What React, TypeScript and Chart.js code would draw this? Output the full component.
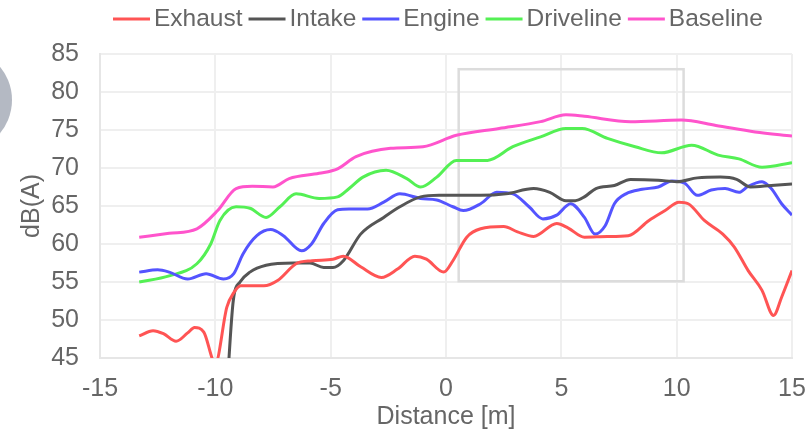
import React, { useEffect, useRef } from "react";
import { Chart, registerables } from "chart.js";

Chart.register(...registerables);

const seriesNames = ["Exhaust", "Intake", "Engine", "Driveline", "Baseline"];
const seriesColors = ["#ff5454", "#555555", "#5454ff", "#54f054", "#ff54cc"];

const exhaustX = [-13.3, -12.7, -12.25, -11.7, -11.2, -10.9, -10.5, -10.0, -9.5, -9.2, -8.9, -8.4, -7.9, -7.3, -6.5, -5.8, -4.9, -4.45, -3.7, -2.8, -2.1, -1.35, -0.85, -0.1, 0.3, 0.9, 1.5, 2.5, 3.1, 3.8, 4.8, 5.3, 6.0, 7.0, 7.9, 8.8, 9.5, 10.1, 10.5, 11.2, 12.0, 12.5, 13.1, 13.7, 14.2, 14.55, 15.0];
const exhaustY = [47.9, 48.6, 48.2, 47.2, 48.3, 49.0, 48.4, 44.3, 51.7, 53.6, 54.5, 54.5, 54.5, 55.2, 57.4, 57.8, 58.0, 58.4, 57.0, 55.6, 56.7, 58.4, 58.0, 56.3, 57.8, 60.9, 62.0, 62.3, 61.6, 61.0, 62.7, 62.1, 60.9, 61.0, 61.1, 63.1, 64.4, 65.5, 65.3, 63.1, 61.3, 59.6, 56.5, 53.9, 50.6, 53.0, 56.5];

const intakeX = [-9.55, -9.22, -8.93, -8.5, -7.8, -6.6, -5.9, -5.3, -4.9, -4.45, -3.7, -2.7, -2.0, -1.1, -0.3, 1.5, 2.6, 3.8, 4.5, 5.2, 5.6, 6.0, 6.5, 7.3, 8.0, 9.2, 10.0, 10.9, 11.9, 12.6, 13.2, 14.1, 15.0];
const intakeY = [38, 52.6, 55.0, 56.3, 57.2, 57.5, 57.5, 56.9, 56.9, 57.8, 61.3, 63.5, 64.9, 66.2, 66.4, 66.4, 66.6, 67.3, 66.8, 65.7, 65.7, 66.2, 67.3, 67.7, 68.5, 68.4, 68.2, 68.7, 68.8, 68.5, 67.5, 67.7, 67.9];

const engineX = [-13.3, -12.5, -12.0, -11.2, -10.4, -9.65, -9.2, -8.8, -8.2, -7.6, -7.05, -6.26, -5.83, -5.3, -4.7, -4.2, -3.4, -2.7, -2.0, -1.1, -0.4, 0.3, 0.75, 1.5, 2.2, 2.9, 3.6, 4.2, 4.8, 5.4, 6.0, 6.46, 6.9, 7.3, 7.8, 8.5, 9.2, 9.8, 10.35, 10.9, 11.5, 12.1, 12.7, 13.1, 13.7, 14.1, 14.55, 15.0];
const engineY = [56.3, 56.6, 56.3, 55.4, 56.1, 55.4, 56.1, 58.7, 61.1, 61.9, 61.1, 59.1, 60.0, 62.7, 64.5, 64.6, 64.6, 65.5, 66.6, 66.0, 65.8, 64.9, 64.4, 65.3, 66.8, 66.6, 64.9, 63.3, 63.8, 65.3, 63.5, 61.3, 62.4, 65.3, 66.6, 67.2, 67.5, 68.3, 68.0, 66.4, 67.1, 67.3, 66.8, 67.6, 68.2, 67.3, 65.3, 63.8];

const drivelineX = [-13.3, -12.0, -10.8, -10.2, -9.8, -9.1, -8.5, -7.8, -7.2, -6.5, -5.5, -4.7, -4.2, -3.6, -2.6, -1.7, -1.1, -0.4, 0.45, 1.8, 2.9, 4.1, 5.2, 5.9, 7.0, 8.2, 9.35, 10.65, 11.8, 12.7, 13.7, 15.0];
const drivelineY = [55.0, 55.8, 57.4, 60.0, 63.1, 64.9, 64.7, 63.5, 64.9, 66.6, 66.0, 66.2, 67.3, 68.8, 69.7, 68.6, 67.5, 68.8, 71.0, 71.0, 72.8, 74.1, 75.2, 75.2, 73.9, 72.8, 72.0, 73.0, 71.7, 71.2, 70.1, 70.7];

const baselineX = [-13.3, -12.0, -10.8, -9.9, -9.1, -8.4, -7.5, -6.8, -5.5, -4.7, -3.9, -2.4, -1.0, 0.45, 2.3, 4.1, 5.2, 6.0, 8.0, 10.2, 11.7, 13.4, 15.0];
const baselineY = [60.9, 61.4, 62.0, 64.4, 67.3, 67.6, 67.5, 68.6, 69.3, 69.9, 71.5, 72.6, 72.8, 74.3, 75.2, 76.1, 77.0, 76.8, 76.1, 76.3, 75.6, 74.75, 74.2];

const seriesX = [exhaustX, intakeX, engineX, drivelineX, baselineX];
const seriesY = [exhaustY, intakeY, engineY, drivelineY, baselineY];

const xMin = -15;
const xMax = 15;
const xStep = 5;
const yMin = 45;
const yMax = 85;
const yStep = 5;
const xTitle = "Distance [m]";
const yTitle = "dB(A)";

// highlighted region (data units)
const boxX = [0.55, 10.3];
const boxY = [55.1, 83.0];

const FONT = '"Liberation Sans", Arial, Helvetica, sans-serif';
const TEXT = "#666666";

const legendPlugin = {
  id: "customLegend",
  afterDraw(chart: any) {
    const ctx = chart.ctx;
    ctx.save();
    ctx.font = `24.5px ${FONT}`;
    ctx.textBaseline = "middle";
    ctx.textAlign = "left";
    const lineW = 37;
    const gapText = 4;
    const gapItem = 6;
    let x = 113;
    const y = 19;
    chart.data.datasets.forEach((ds: any) => {
      ctx.strokeStyle = ds.borderColor;
      ctx.lineWidth = 3;
      ctx.beginPath();
      ctx.moveTo(x, y);
      ctx.lineTo(x + lineW, y);
      ctx.stroke();
      x += lineW + gapText;
      ctx.fillStyle = TEXT;
      ctx.fillText(ds.label, x, y);
      x += ctx.measureText(ds.label).width + gapItem;
    });
    ctx.restore();
  },
};

const decorPlugin = {
  id: "decor",
  beforeDraw(chart: any) {
    const ctx = chart.ctx;
    ctx.save();
    ctx.fillStyle = "#b4b9c3";
    ctx.beginPath();
    ctx.arc(-40, 100, 52, 0, Math.PI * 2);
    ctx.fill();
    ctx.restore();
  },
  beforeDatasetsDraw(chart: any) {
    const ctx = chart.ctx;
    const xs = chart.scales.x;
    const ys = chart.scales.y;
    const x0 = xs.getPixelForValue(boxX[0]);
    const x1 = xs.getPixelForValue(boxX[1]);
    const y0 = ys.getPixelForValue(boxY[1]);
    const y1 = ys.getPixelForValue(boxY[0]);
    ctx.save();
    ctx.strokeStyle = "#dcdcdc";
    ctx.lineWidth = 2.5;
    ctx.strokeRect(x0, y0, x1 - x0, y1 - y0);
    ctx.restore();
  },
};

export default function App() {
  const ref = useRef<HTMLCanvasElement | null>(null);
  useEffect(() => {
    document.body.style.margin = "0";
    if (!ref.current) return;
    const datasets = seriesNames.map((name, i) => ({
      label: name,
      data: seriesX[i].map((x, j) => ({ x, y: seriesY[i][j] })),
      borderColor: seriesColors[i],
      backgroundColor: seriesColors[i],
      borderWidth: 3,
      pointRadius: 0,
      fill: false,
      cubicInterpolationMode: "monotone" as const,
    }));
    const chart = new Chart(ref.current, {
      type: "line",
      data: { datasets },
      options: {
        responsive: false,
        animation: false,
        devicePixelRatio: 1,
        layout: { padding: { top: 54, left: 0, right: 0, bottom: 0 } },
        plugins: {
          legend: { display: false },
          tooltip: { enabled: false },
        },
        scales: {
          x: {
            type: "linear",
            min: xMin,
            max: xMax,
            afterFit: (scale: any) => {
              scale.height = 71;
              scale.paddingRight = 13;
              scale.paddingLeft = 0;
            },
            ticks: {
              stepSize: xStep,
              padding: 16,
              color: TEXT,
              font: { size: 25, family: FONT, lineHeight: 1.2 },
              maxRotation: 0,
            },
            grid: { color: "#efefef", lineWidth: 2, drawTicks: false },
            border: { color: "#e6e6e6", width: 2 },
            title: {
              display: true,
              text: xTitle,
              color: TEXT,
              font: { size: 25, family: FONT, lineHeight: 1 },
              padding: { top: 0, bottom: -1 },
            },
          },
          y: {
            type: "linear",
            min: yMin,
            max: yMax,
            afterFit: (scale: any) => {
              scale.width = 100;
            },
            ticks: {
              stepSize: yStep,
              padding: 21,
              color: TEXT,
              font: { size: 25, family: FONT, lineHeight: 1.2 },
            },
            grid: { color: "#efefef", lineWidth: 2, drawTicks: false },
            border: { color: "#e6e6e6", width: 2 },
            title: {
              display: true,
              text: yTitle,
              color: TEXT,
              font: { size: 25, family: FONT, lineHeight: 1.2 },
              padding: { top: 17, bottom: 0 },
            },
          },
        },
      },
      plugins: [decorPlugin, legendPlugin],
    });
    return () => chart.destroy();
  }, []);
  return (
    <div style={{ width: 805, height: 429 }}>
      <canvas ref={ref} width={805} height={429} style={{ display: "block" }} />
    </div>
  );
}
